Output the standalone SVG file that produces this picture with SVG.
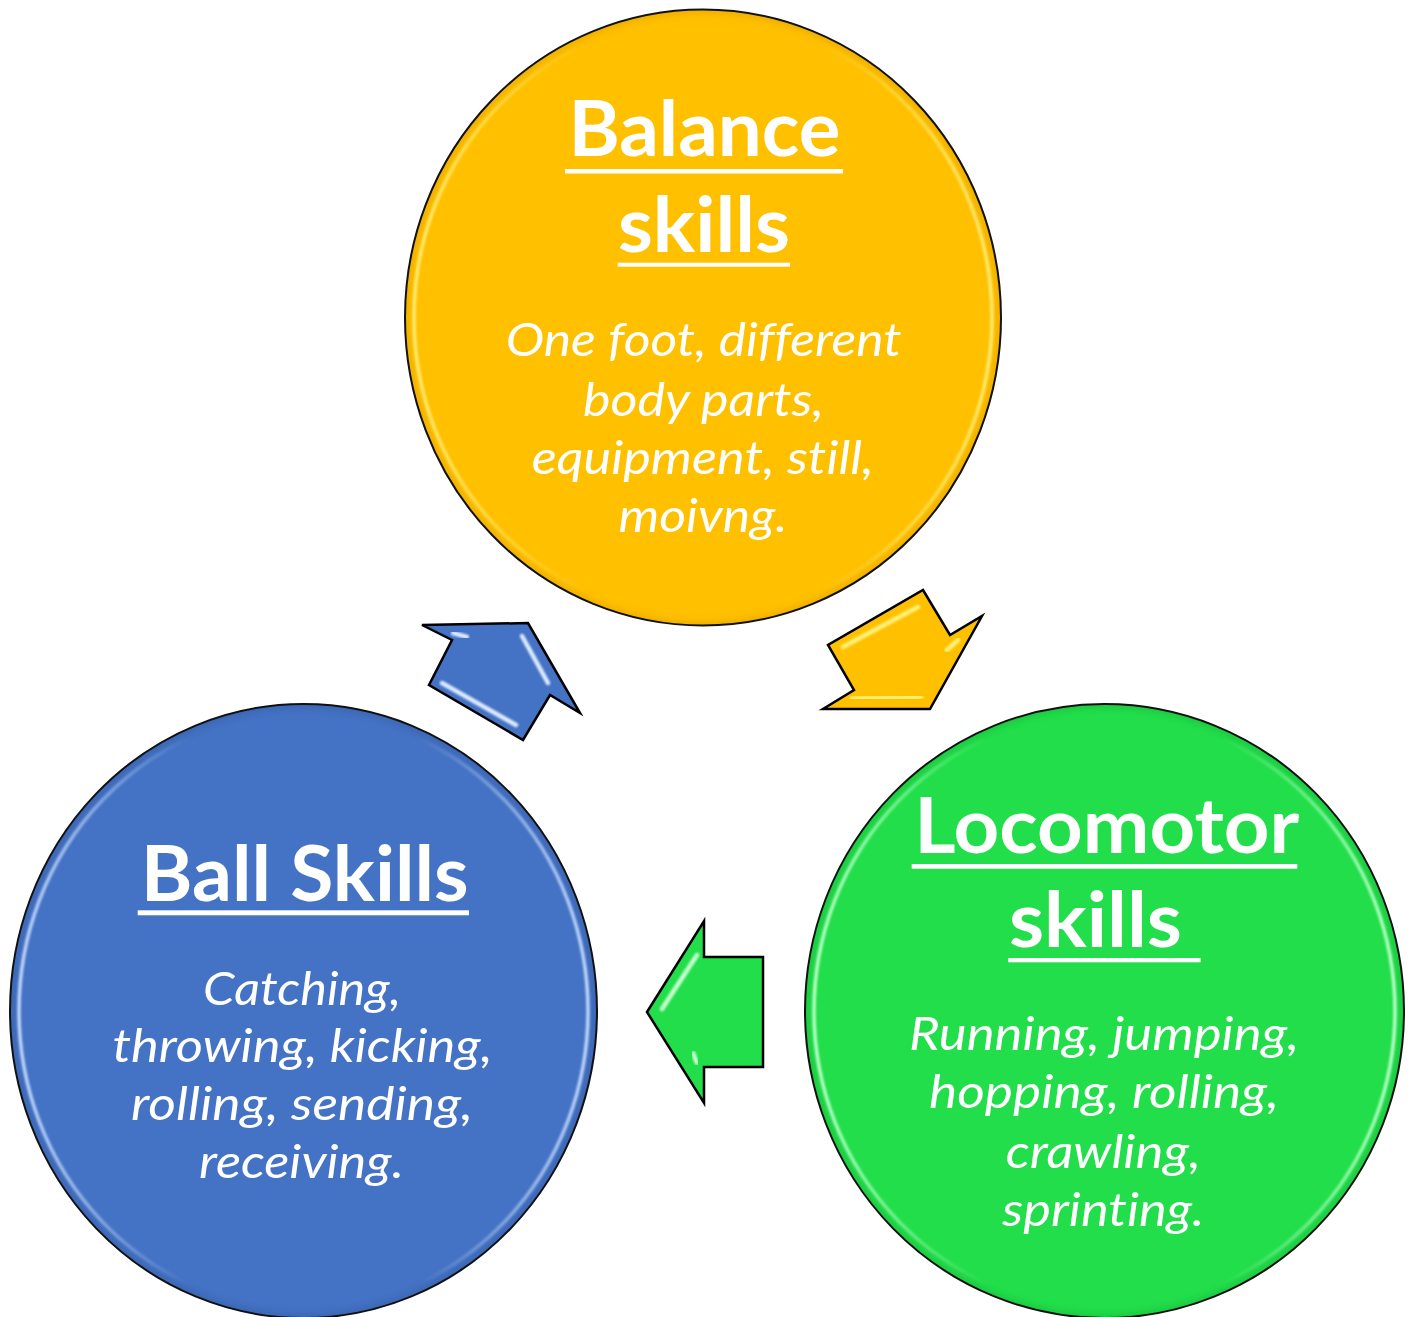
<svg xmlns="http://www.w3.org/2000/svg" width="1413" height="1317" viewBox="0 0 1413 1317">
  <defs>
    <style>
      .disc { stroke: #111; stroke-width: 2; }
      .title { font-family: Lato, "Open Sans", "Liberation Sans", sans-serif; font-weight: 700; font-size: 77px; fill: #fff; text-anchor: middle; font-variant-ligatures: none; }
      .body { font-family: Lato, "Open Sans", "Liberation Sans", sans-serif; font-style: italic; font-size: 47px; fill: #fff; text-anchor: middle; font-variant-ligatures: none; }
      .ul { fill: #fff; }
      .arrow { stroke: #000; stroke-width: 2.5; stroke-linejoin: miter; }
      .shine { fill: none; stroke-width: 4.5; stroke-linecap: round; filter: url(#soft); }
    </style>
    <filter id="soft" x="-20%" y="-20%" width="140%" height="140%">
      <feGaussianBlur stdDeviation="1.3"/>
    </filter>
    <filter id="band" x="-10%" y="-10%" width="120%" height="120%">
      <feGaussianBlur stdDeviation="3"/>
    </filter>
    <!-- rim light: bright on the left and right sides, fading towards top and bottom -->
    <linearGradient id="rimY" x1="0" y1="0" x2="1" y2="0">
      <stop offset="0" stop-color="#FFEB70" stop-opacity="1"/>
      <stop offset="0.3" stop-color="#FFEB70" stop-opacity="0"/>
      <stop offset="0.7" stop-color="#FFEB70" stop-opacity="0"/>
      <stop offset="1" stop-color="#FFEB70" stop-opacity="1"/>
    </linearGradient>
    <linearGradient id="rimB" x1="0" y1="0" x2="1" y2="0">
      <stop offset="0" stop-color="#BFD6FA" stop-opacity="1"/>
      <stop offset="0.3" stop-color="#BFD6FA" stop-opacity="0"/>
      <stop offset="0.7" stop-color="#BFD6FA" stop-opacity="0"/>
      <stop offset="1" stop-color="#BFD6FA" stop-opacity="1"/>
    </linearGradient>
    <linearGradient id="rimG" x1="0" y1="0" x2="1" y2="0">
      <stop offset="0" stop-color="#B8FFC8" stop-opacity="1"/>
      <stop offset="0.3" stop-color="#B8FFC8" stop-opacity="0"/>
      <stop offset="0.7" stop-color="#B8FFC8" stop-opacity="0"/>
      <stop offset="1" stop-color="#B8FFC8" stop-opacity="1"/>
    </linearGradient>
    <clipPath id="clipY"><ellipse cx="703" cy="317.5" rx="298" ry="308"/></clipPath>
    <clipPath id="clipB"><ellipse cx="303.5" cy="1011" rx="293.5" ry="307"/></clipPath>
    <clipPath id="clipG"><ellipse cx="1104.5" cy="1011" rx="299.5" ry="307"/></clipPath>
  </defs>

  <rect width="1413" height="1317" fill="#fff"/>

  <!-- Balance skills -->
  <g id="node-balance">
    <ellipse cx="703" cy="317.5" rx="298" ry="308" fill="#FFC000"/>
    <g clip-path="url(#clipY)">
      <ellipse cx="703" cy="317.5" rx="298" ry="308" fill="none" stroke="#D99A00" stroke-width="8" opacity="0.45" filter="url(#band)"/>
      <ellipse cx="703" cy="317.5" rx="289" ry="299" fill="none" stroke="url(#rimY)" stroke-width="3.5" filter="url(#soft)"/>
    </g>
    <ellipse class="disc" cx="703" cy="317.5" rx="298" ry="308" fill="none"/>
    <text class="title" x="704.4" y="156" textLength="272" lengthAdjust="spacingAndGlyphs">Balance</text>
    <rect class="ul" x="565" y="169" width="278" height="4.5"/>
    <text class="title" x="703.9" y="251.7" textLength="172" lengthAdjust="spacingAndGlyphs">skills</text>
    <rect class="ul" x="617.7" y="262.7" width="172.3" height="4"/>
    <text class="body" x="703.7" y="356" textLength="396" lengthAdjust="spacingAndGlyphs">One foot, different</text>
    <text class="body" x="703.5" y="415.5" textLength="241" lengthAdjust="spacingAndGlyphs">body parts,</text>
    <text class="body" x="702.7" y="474" textLength="342" lengthAdjust="spacingAndGlyphs">equipment, still,</text>
    <text class="body" x="702.9" y="532" textLength="169" lengthAdjust="spacingAndGlyphs">moivng.</text>
  </g>

  <!-- Ball Skills -->
  <g id="node-ball">
    <ellipse cx="303.5" cy="1011" rx="293.5" ry="307" fill="#4472C4"/>
    <g clip-path="url(#clipB)">
      <ellipse cx="303.5" cy="1011" rx="293.5" ry="307" fill="none" stroke="#2F5597" stroke-width="8" opacity="0.4" filter="url(#band)"/>
      <ellipse cx="303.5" cy="1011" rx="284.5" ry="298" fill="none" stroke="url(#rimB)" stroke-width="3.5" filter="url(#soft)"/>
    </g>
    <ellipse class="disc" cx="303.5" cy="1011" rx="293.5" ry="307" fill="none"/>
    <text class="title" x="304.7" y="900.7" textLength="328" lengthAdjust="spacingAndGlyphs">Ball Skills</text>
    <rect class="ul" x="137.7" y="910.3" width="331.3" height="5"/>
    <text class="body" x="302" y="1005" textLength="198" lengthAdjust="spacingAndGlyphs">Catching,</text>
    <text class="body" x="302.5" y="1061.7" textLength="380" lengthAdjust="spacingAndGlyphs">throwing, kicking,</text>
    <text class="body" x="302" y="1120" textLength="342" lengthAdjust="spacingAndGlyphs">rolling, sending,</text>
    <text class="body" x="301.5" y="1178" textLength="205" lengthAdjust="spacingAndGlyphs">receiving.</text>
  </g>

  <!-- Locomotor skills -->
  <g id="node-locomotor">
    <ellipse cx="1104.5" cy="1011" rx="299.5" ry="307" fill="#22DE4A"/>
    <g clip-path="url(#clipG)">
      <ellipse cx="1104.5" cy="1011" rx="299.5" ry="307" fill="none" stroke="#17A834" stroke-width="8" opacity="0.4" filter="url(#band)"/>
      <ellipse cx="1104.5" cy="1011" rx="290.5" ry="298" fill="none" stroke="url(#rimG)" stroke-width="3.5" filter="url(#soft)"/>
    </g>
    <ellipse class="disc" cx="1104.5" cy="1011" rx="299.5" ry="307" fill="none"/>
    <text class="title" x="1106.7" y="853.3" textLength="385" lengthAdjust="spacingAndGlyphs">Locomotor</text>
    <rect class="ul" x="911.7" y="864" width="385.6" height="4.7"/>
    <text class="title" x="1095.4" y="946.7" textLength="173" lengthAdjust="spacingAndGlyphs">skills</text>
    <rect class="ul" x="1008.3" y="958" width="192.4" height="4.3"/>
    <text class="body" x="1104" y="1050" textLength="390" lengthAdjust="spacingAndGlyphs">Running, jumping,</text>
    <text class="body" x="1104" y="1108.3" textLength="350" lengthAdjust="spacingAndGlyphs">hopping, rolling,</text>
    <text class="body" x="1103.3" y="1167.5" textLength="195" lengthAdjust="spacingAndGlyphs">crawling,</text>
    <text class="body" x="1103.3" y="1225.5" textLength="202" lengthAdjust="spacingAndGlyphs">sprinting.</text>
  </g>

  <!-- Cycle arrows between the skill groups -->
  <g id="connectors">
    <g id="arrow-balance-to-locomotor">
      <polygon class="arrow" fill="#FFC000" points="923,590 950,635 982,616 930,709 823,709 854,690 828,645"/>
      <polyline class="shine" stroke="#FFF27A" points="843,647 918,607"/>
      <polyline class="shine" stroke="#FFF27A" points="852,698.5 921,697"/>
      <polyline class="shine" stroke="#FFF27A" points="947,650 958,640"/>
    </g>
    <g id="arrow-locomotor-to-ball">
      <polygon class="arrow" fill="#22DE4A" points="647,1012 704,921 704,957 763,957 763,1067 704,1067 704,1103"/>
      <polyline class="shine" stroke="#C8FFD2" points="662,1009 697,955"/>
      <polyline class="shine" stroke="#C8FFD2" points="752,967 752,1059"/>
      <polyline class="shine" stroke="#C8FFD2" points="693,1053 697,1063"/>
    </g>
    <g id="arrow-ball-to-balance">
      <polygon class="arrow" fill="#4472C4" points="422,625 528,623 580,713 550,695 523,740 429,685 452,640"/>
      <polyline class="shine" stroke="#DCEAFF" points="522,636 548,683"/>
      <polyline class="shine" stroke="#DCEAFF" points="442,683 516,725"/>
      <polyline class="shine" stroke="#DCEAFF" points="453,633 467,637"/>
    </g>
  </g>
</svg>
